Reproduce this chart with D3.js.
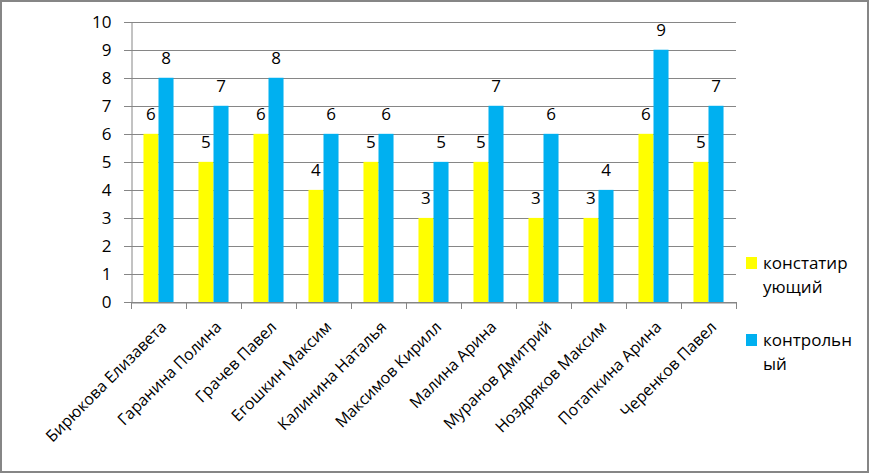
<!DOCTYPE html>
<html><head><meta charset="utf-8">
<script src="https://cdn.jsdelivr.net/npm/d3@7"></script>
<style>body{margin:0;background:#fff}svg{display:block}text{font-family:"Open Sans","Noto Sans",sans-serif;fill:#000}</style>
</head><body>
<svg id="c" width="870" height="474"></svg>
<script>
const categories = ["Бирюкова Елизавета","Гаранина Полина","Грачев Павел","Егошкин Максим","Калинина Наталья","Максимов Кирилл","Малина Арина","Муранов Дмитрий","Ноздряков Максим","Потапкина Арина","Черенков Павел"];
const seriesNames = ["констатирующий","контрольный"];
const legendLines = [["констатир","ующий"],["контрольн","ый"]];
const constat = [6,5,6,4,5,3,5,3,3,6,5];
const control = [8,7,8,6,6,5,7,6,4,9,7];
const yTicks = [0,1,2,3,4,5,6,7,8,9,10];
const colors = ["#FFFF00","#00B0F0"];

const svg = d3.select("#c");
svg.append("rect").attr("x",1).attr("y",1).attr("width",867).attr("height",471)
  .attr("fill","#fff").attr("stroke","#868686").attr("stroke-width",2);

const L=131, R=736, T=21.7, B=302;
const x = d3.scaleBand().domain(categories).range([L,R]).paddingInner(0).paddingOuter(0);
const y = d3.scaleLinear().domain([0,10]).range([B,T]);
const xs = d3.scaleBand().domain(seriesNames).range([0,x.bandwidth()]).paddingInner(0).paddingOuter(0.83);

// gridlines
svg.append("g").selectAll("line").data(yTicks).join("line")
  .attr("x1",L-7).attr("x2",R).attr("y1",d=>Math.round(y(d))+0.5).attr("y2",d=>Math.round(y(d))+0.5)
  .attr("stroke","#868686").attr("stroke-width",1);

// y axis
const yAxis = d3.axisLeft(y).tickValues(yTicks).tickSize(0).tickPadding(20).tickFormat(d3.format("d"));
const gy = svg.append("g").attr("transform",`translate(${L+0.5},0)`).call(yAxis);
gy.select(".domain").attr("stroke","#868686");
gy.selectAll("text").attr("font-size",17).attr("font-family","Open Sans").attr("fill","#000").attr("dy","0.35em");

// x axis
const xAxis = d3.axisBottom(x).tickSize(0).tickFormat("");
const gx = svg.append("g").attr("transform",`translate(0,${Math.round(B)+0.5})`).call(xAxis);
gx.select(".domain").attr("stroke","#868686");
gx.selectAll(".tick").remove();
const bounds = categories.map(c=>x(c)).concat([R]);
svg.append("g").selectAll("line").data(bounds).join("line")
  .attr("x1",d=>Math.round(d)+0.5).attr("x2",d=>Math.round(d)+0.5)
  .attr("y1",B).attr("y2",B+7).attr("stroke","#868686");

// bars
const data = [constat, control];
data.forEach((vals,si)=>{
  const g = svg.append("g");
  g.selectAll("rect").data(vals).join("rect")
    .attr("x",(d,i)=>x(categories[i])+xs(seriesNames[si]))
    .attr("width",xs.bandwidth())
    .attr("y",d=>y(d)).attr("height",d=>y(0)-y(d))
    .attr("fill",colors[si]);
  g.selectAll("text").data(vals).join("text")
    .attr("x",(d,i)=>x(categories[i])+xs(seriesNames[si])+xs.bandwidth()/2)
    .attr("y",d=>y(d)-13.5)
    .attr("text-anchor","middle").attr("font-size",17).text(d=>d);
});

// category labels
svg.append("g").selectAll("text").data(categories).join("text")
  .attr("transform",d=>`translate(${x(d)+x.bandwidth()/2+9},${B+26}) rotate(-45)`)
  .attr("text-anchor","end").attr("font-size",16).text(d=>d);

// legend
const ly = [257,334];
seriesNames.forEach((s,i)=>{
  svg.append("rect").attr("x",746).attr("y",ly[i]).attr("width",11).attr("height",12).attr("fill",colors[i]);
  legendLines[i].forEach((t,j)=>{
    svg.append("text").attr("x",763).attr("y",ly[i]+12+j*24).attr("font-size",17).text(t);
  });
});
</script>
</body></html>
